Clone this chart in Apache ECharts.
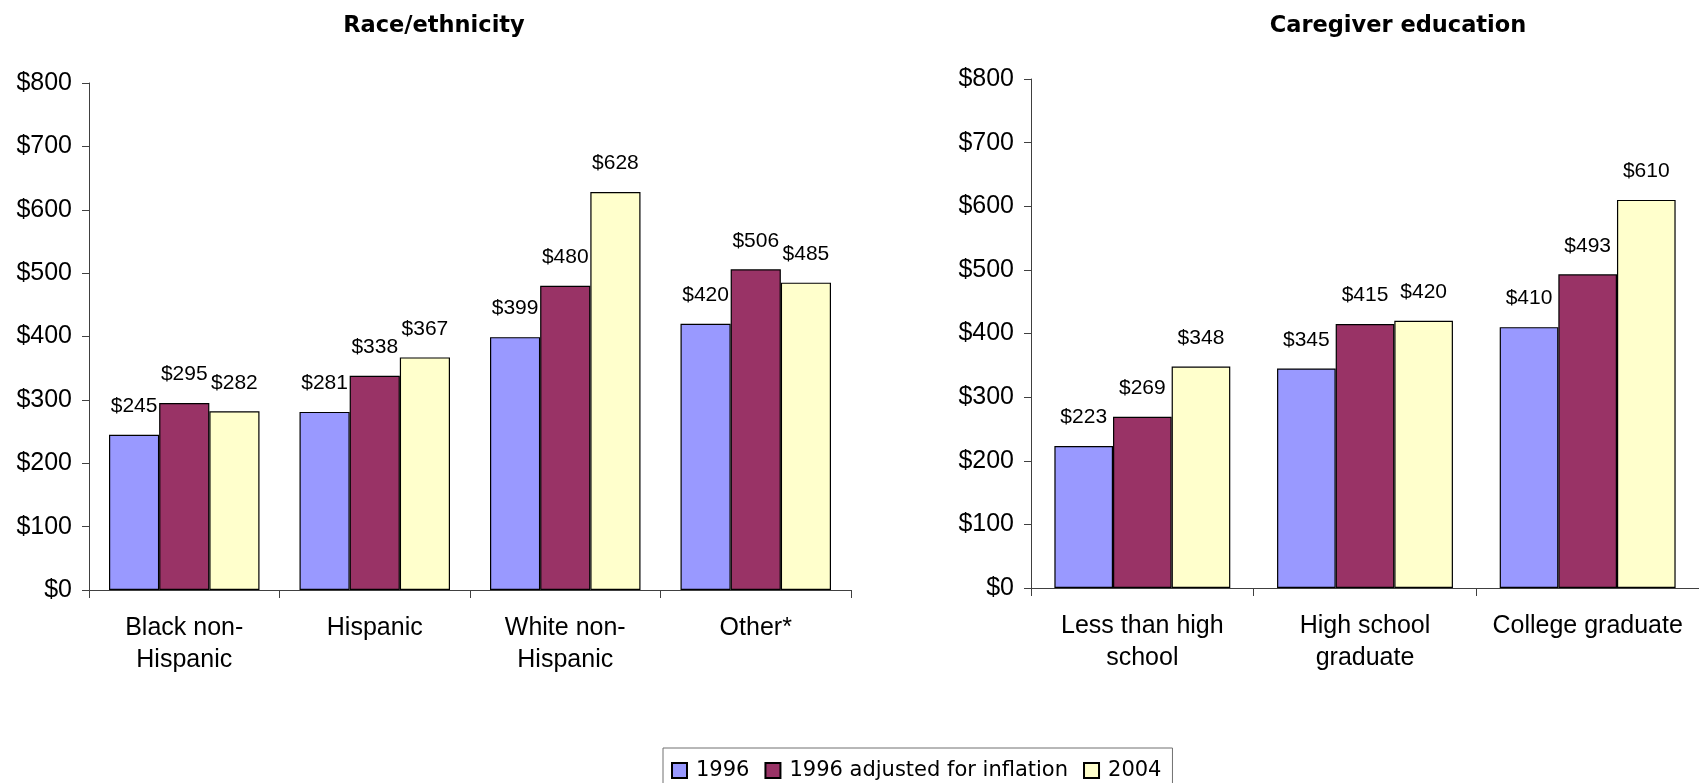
<!DOCTYPE html>
<html>
<head>
<meta charset="utf-8">
<script src="https://cdn.jsdelivr.net/npm/echarts@6/dist/echarts.min.js"></script>
<style>
html,body{margin:0;padding:0;background:#fff;}
#chart{width:1699px;height:783px;}
</style>
</head>
<body>
<div id="chart"></div>
<script>
// ---- Data ----
var seriesNames = ['1996', '1996 adjusted for inflation', '2004'];
var raceCategories = ['Black non-\nHispanic', 'Hispanic', 'White non-\nHispanic', 'Other*'];
var race1996 = [245, 281, 399, 420];
var raceAdjusted = [295, 338, 480, 506];
var race2004 = [282, 367, 628, 485];
var eduCategories = ['Less than high\nschool', 'High school\ngraduate', 'College graduate'];
var edu1996 = [223, 345, 410];
var eduAdjusted = [269, 415, 493];
var edu2004 = [348, 420, 610];
var yMin = 0, yMax = 800, yStep = 100;
var titles = ['Race/ethnicity', 'Caregiver education'];

// ---- Styles ----
var FONT = 'Liberation Sans';
var FONT_WIDE = 'DejaVu Sans';
var colors = ['#9999FF', '#993366', '#FFFFCC'];
var axisColor = '#404040';

function yAxis(gridIndex) {
  return {
    type: 'value', gridIndex: gridIndex, min: yMin, max: yMax, interval: yStep,
    splitLine: {show: false},
    axisLine: {show: true, lineStyle: {color: axisColor, width: 1}},
    axisTick: {show: true, length: 7, lineStyle: {color: axisColor}},
    axisLabel: {fontFamily: FONT, fontSize: 25, color: '#000', margin: 17,
      formatter: function (v) { return '$' + v; }}
  };
}
function xAxis(gridIndex, cats) {
  return {
    type: 'category', gridIndex: gridIndex, data: cats,
    axisLine: {show: true, lineStyle: {color: axisColor, width: 1}},
    axisTick: {show: true, length: 8, lineStyle: {color: axisColor}},
    axisLabel: {fontFamily: FONT, fontSize: 25, color: '#000', margin: 22, lineHeight: 32, interval: 0}
  };
}
function bar(name, idx, gridIndex, data) {
  return {
    type: 'bar', name: name, xAxisIndex: gridIndex, yAxisIndex: gridIndex, data: data,
    barGap: '0%', barCategoryGap: '21%',
    itemStyle: {color: colors[idx], borderColor: '#000', borderWidth: 1.2},
    label: {show: true, position: 'top', distance: 18, fontFamily: FONT, fontSize: 21, color: '#000',
      formatter: function (p) { return '$' + p.value; }},
    animation: false
  };
}

var chart = echarts.init(document.getElementById('chart'), null, {renderer: 'canvas'});
chart.setOption({
  animation: false,
  backgroundColor: '#fff',
  title: [
    {text: titles[0], left: 429, top: 10, textAlign: 'center',
     textStyle: {fontFamily: FONT_WIDE, fontSize: 22.5, fontWeight: 'bold', color: '#000'}},
    {text: titles[1], left: 1393, top: 10, textAlign: 'center',
     textStyle: {fontFamily: FONT_WIDE, fontSize: 22.5, fontWeight: 'bold', color: '#000'}}
  ],
  legend: {
    data: seriesNames, left: 663, top: 748, orient: 'horizontal',
    itemWidth: 15, itemHeight: 15, itemGap: 15, icon: 'rect',
    borderColor: '#707070', borderWidth: 1, padding: [12, 11, 12, 8],
    selectedMode: false,
    textStyle: {fontFamily: FONT_WIDE, fontSize: 21, color: '#000', padding: [0, 0, 0, 4]}
  },
  grid: [
    {left: 89, top: 83, width: 762, height: 507, containLabel: false},
    {left: 1031, top: 79, width: 676, height: 509, containLabel: false}
  ],
  xAxis: [xAxis(0, raceCategories), xAxis(1, eduCategories)],
  yAxis: [yAxis(0), yAxis(1)],
  series: [
    bar(seriesNames[0], 0, 0, race1996),
    bar(seriesNames[1], 1, 0, raceAdjusted),
    bar(seriesNames[2], 2, 0, race2004),
    bar(seriesNames[0], 0, 1, edu1996),
    bar(seriesNames[1], 1, 1, eduAdjusted),
    bar(seriesNames[2], 2, 1, edu2004)
  ]
});
</script>
</body>
</html>
